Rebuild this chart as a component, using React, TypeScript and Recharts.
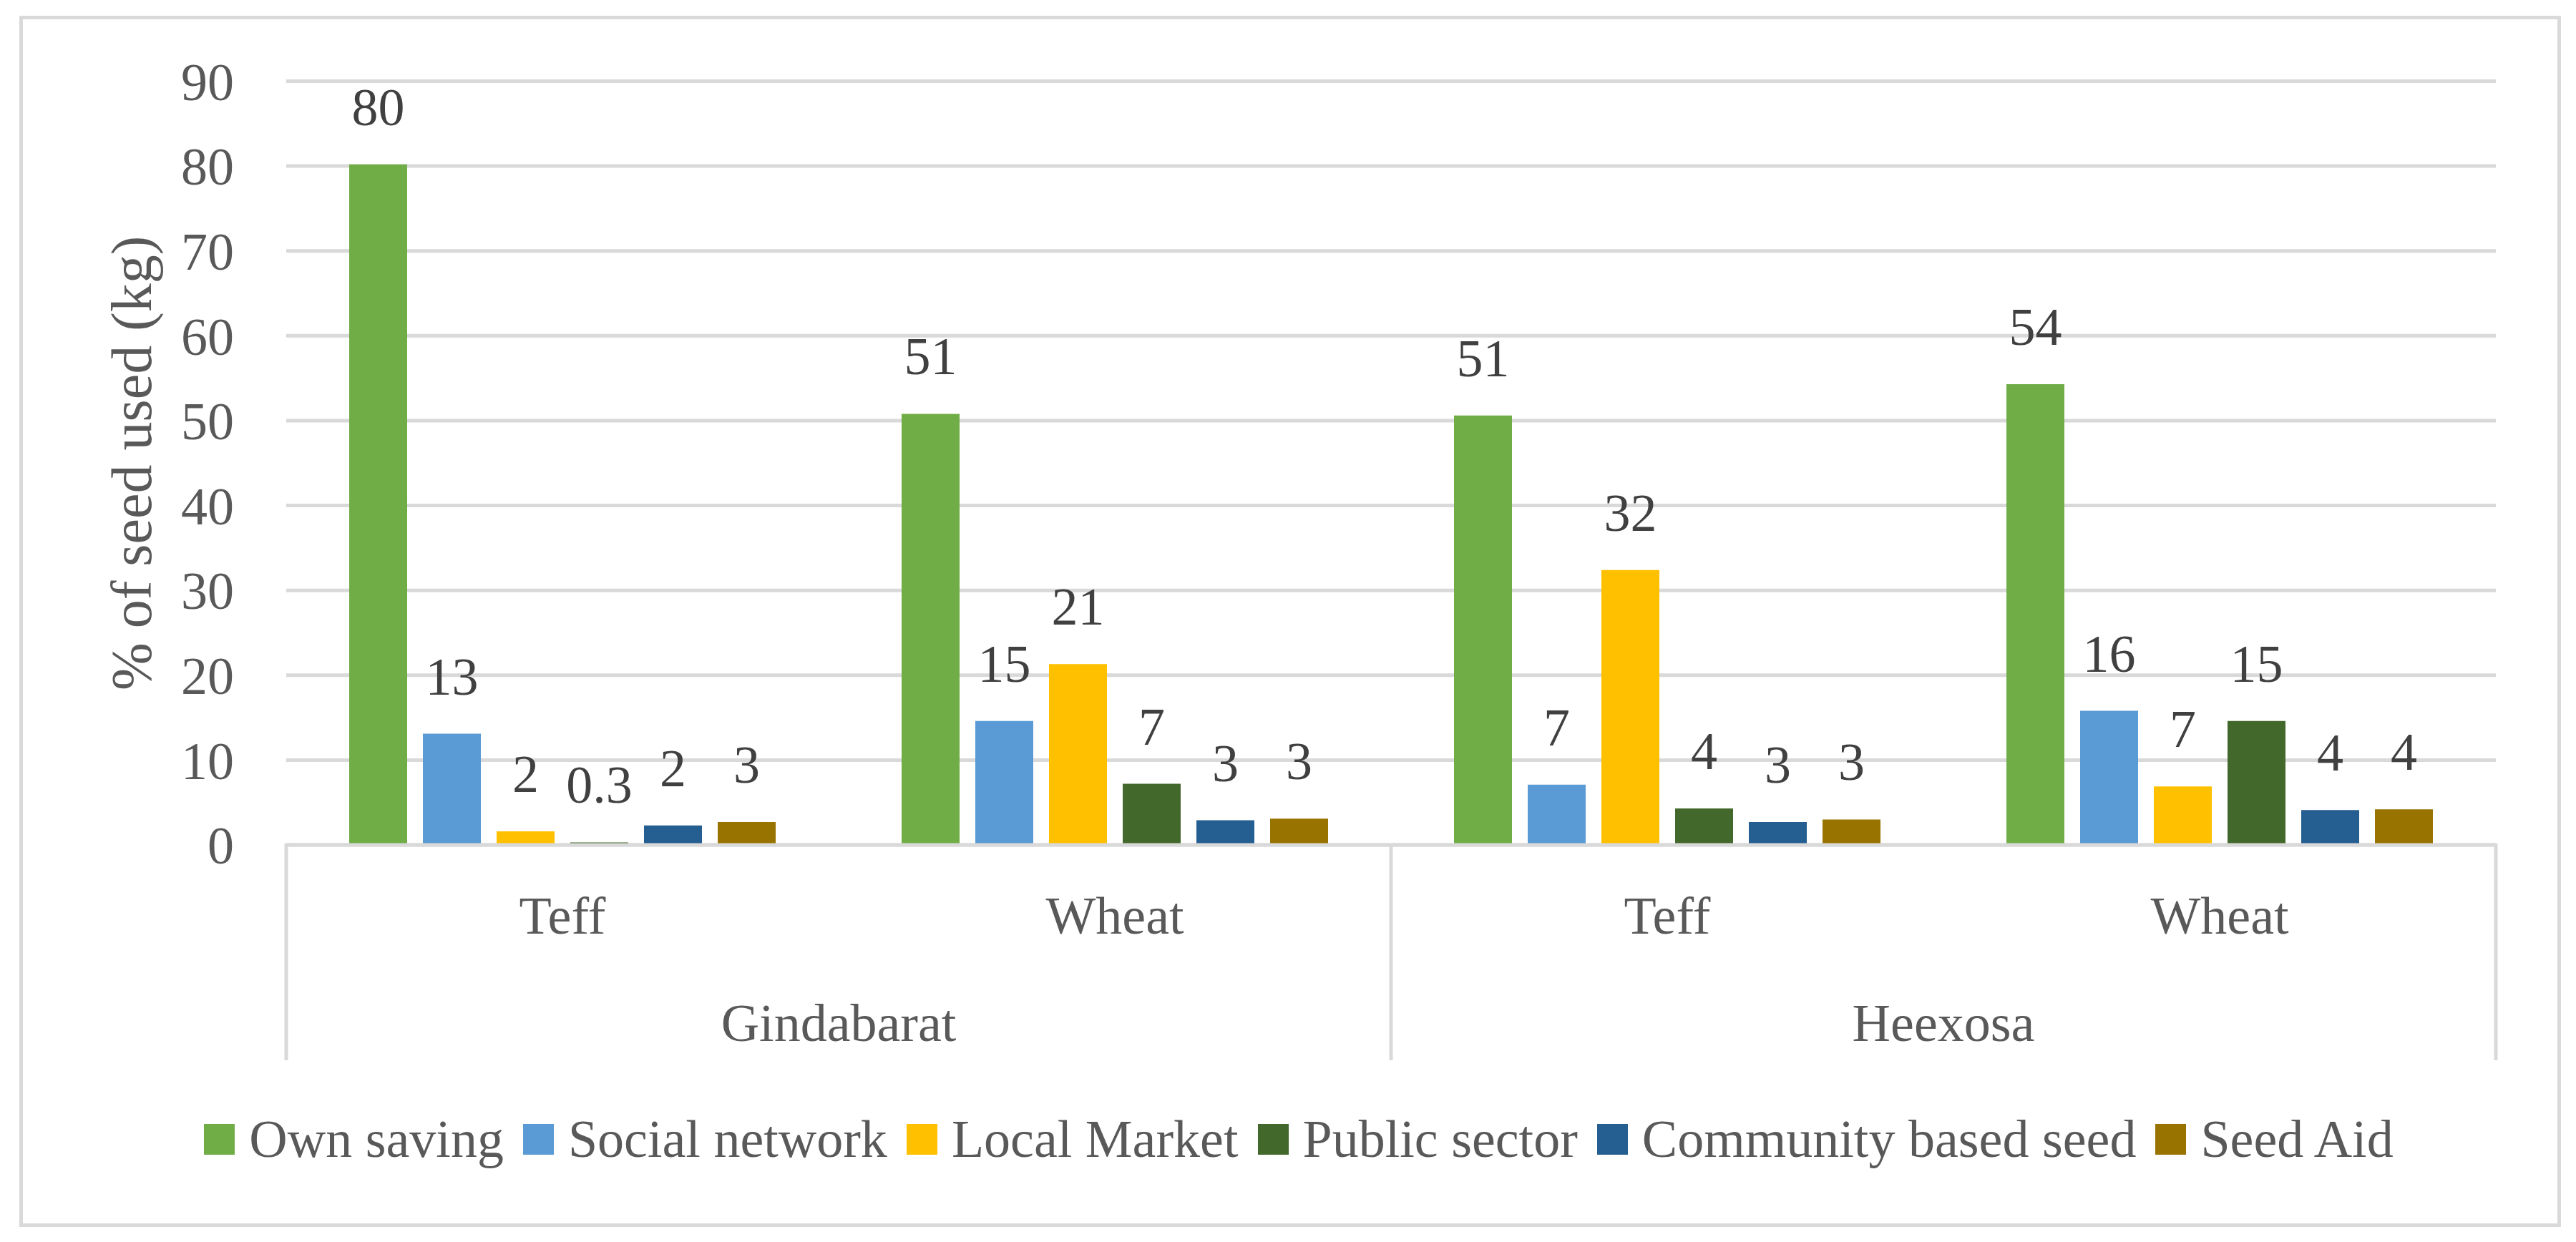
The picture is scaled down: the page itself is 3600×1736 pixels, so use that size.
import React from 'react';
import { BarChart, Bar, XAxis, YAxis, CartesianGrid, Legend, LabelList } from 'recharts';

// categories (two-level x axis)
const crops = ['Teff', 'Wheat', 'Teff', 'Wheat'];
const regions = ['Gindabarat', 'Gindabarat', 'Heexosa', 'Heexosa'];

// % of seed used
const ownSaving = [80.2, 50.8, 50.6, 54.3];
const socialNetwork = [13.1, 14.6, 7.1, 15.8];
const localMarket = [1.6, 21.3, 32.4, 6.9];
const publicSector = [0.3, 7.2, 4.3, 14.6];
const communityBased = [2.3, 2.9, 2.7, 4.1];
const seedAid = [2.7, 3.1, 3.0, 4.2];

const yTicks = [0, 10, 20, 30, 40, 50, 60, 70, 80, 90];

const series = [
  { key: 'own', name: 'Own saving', color: '#70ad47', values: ownSaving },
  { key: 'social', name: 'Social network', color: '#5b9bd5', values: socialNetwork },
  { key: 'market', name: 'Local Market', color: '#ffc000', values: localMarket },
  { key: 'public', name: 'Public sector', color: '#43682b', values: publicSector },
  { key: 'community', name: 'Community based seed', color: '#255e91', values: communityBased },
  { key: 'aid', name: 'Seed Aid', color: '#997300', values: seedAid },
];

const data = crops.map((crop, i) => {
  const row: Record<string, any> = { crop, region: regions[i] };
  series.forEach((s) => {
    row[s.key] = s.values[i];
  });
  return row;
});

const W = 3600;
const H = 1736;
const MARGIN = { top: 113.5, right: 112, left: 0, bottom: 104 };
const Y_AXIS_W = 400;
const BAND = (W - MARGIN.left - MARGIN.right - Y_AXIS_W) / crops.length;
const FONT = "'Liberation Serif', 'Times New Roman', serif";
const GREY = '#d9d9d9';
const TEXT = '#595959';

const CategoryTick = (props: any) => {
  const { x, y, payload } = props;
  const i = payload.index;
  const left = x - BAND / 2;
  const right = x + BAND / 2;
  return (
    <g>
      <text x={x} y={y + 124} textAnchor="middle" fill={TEXT} fontSize={74} fontFamily={FONT}>
        {payload.value}
      </text>
      {i % 2 === 0 && (
        <>
          <line x1={left} x2={left} y1={y - 2} y2={y + 301} stroke={GREY} strokeWidth={5} />
          <text x={right} y={y + 274} textAnchor="middle" fill={TEXT} fontSize={74} fontFamily={FONT}>
            {regions[i]}
          </text>
        </>
      )}
      {i === crops.length - 1 && (
        <line x1={right} x2={right} y1={y - 2} y2={y + 301} stroke={GREY} strokeWidth={5} />
      )}
    </g>
  );
};

const YTitle = (props: any) => {
  const { viewBox } = props;
  const cy = viewBox.y + viewBox.height / 2;
  const bx = viewBox.x + 211;
  return (
    <text
      x={bx}
      y={cy}
      transform={`rotate(-90 ${bx} ${cy})`}
      textAnchor="middle"
      fill={TEXT}
      fontSize={80}
      fontFamily={FONT}
    >
      % of seed used (kg)
    </text>
  );
};

// legend keeps the series order (Recharts sorts its payload by name)
const LegendContent = () => (
  <div style={{ display: 'flex', justifyContent: 'center', alignItems: 'center', height: 80 }}>
    {series.map((s, i) => (
      <div
        key={s.key}
        style={{ display: 'flex', alignItems: 'center', marginRight: i < series.length - 1 ? 27 : 0 }}
      >
        <span style={{ display: 'inline-block', width: 43, height: 43, background: s.color, marginRight: 20 }} />
        <span style={{ fontSize: 74, color: TEXT, fontFamily: FONT, lineHeight: '80px', whiteSpace: 'nowrap' }}>
          {s.name}
        </span>
      </div>
    ))}
  </div>
);

const fmt = (v: any) => (Number(v) < 1 ? Number(v).toFixed(1) : String(Math.round(Number(v))));

export default function App() {
  return (
    <div style={{ position: 'absolute', left: 0, top: 0, width: W, height: H, background: '#fff', fontFamily: FONT }}>
      <div
        style={{
          position: 'absolute',
          left: 27,
          top: 22,
          width: 3552,
          height: 1693,
          border: `5px solid ${GREY}`,
          boxSizing: 'border-box',
        }}
      />
      <div style={{ position: 'absolute', left: 0, top: 0 }}>
        <BarChart width={W} height={H} data={data} margin={MARGIN} barCategoryGap={88} barGap={22}>
          <CartesianGrid vertical={false} stroke={GREY} strokeWidth={5} />
          <XAxis
            dataKey="crop"
            height={371}
            interval={0}
            tickLine={false}
            tickSize={0}
            tickMargin={0}
            axisLine={{ stroke: GREY, strokeWidth: 5 }}
            tick={<CategoryTick />}
          />
          <YAxis
            type="number"
            domain={[0, 90]}
            ticks={yTicks}
            width={Y_AXIS_W}
            axisLine={false}
            tickLine={false}
            tickSize={0}
            tickMargin={73}
            tick={{ fill: TEXT, fontSize: 74, fontFamily: FONT }}
            label={<YTitle />}
          />
          <Legend
            verticalAlign="bottom"
            content={<LegendContent />}
            wrapperStyle={{ left: 30, width: 3570 }}
          />
          {series.map((s) => (
            <Bar key={s.key} dataKey={s.key} name={s.name} fill={s.color} isAnimationActive={false}>
              <LabelList
                dataKey={s.key}
                position="top"
                offset={55}
                formatter={fmt}
                fill="#404040"
                fontSize={74}
                fontFamily={FONT}
              />
            </Bar>
          ))}
        </BarChart>
      </div>
    </div>
  );
}
